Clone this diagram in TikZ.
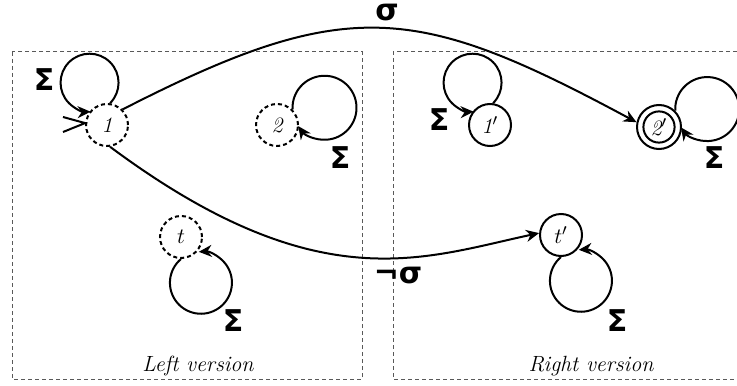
\documentclass[tikz,border=0pt]{standalone}
\usepackage{fontspec}
\newfontfamily\sigfont{DejaVu Sans}
\usetikzlibrary{arrows.meta}
\begin{document}
\begin{tikzpicture}[x=0.5pt,y=0.5pt,
  state/.style={circle,draw,line width=1pt,minimum size=21pt,inner sep=0pt,font=\fontsize{11}{13}\itshape},
  dstate/.style={state,dash pattern=on 2pt off 1.5pt},
  edgeline/.style={line width=1pt,-{Stealth[length=6.5pt,width=6pt]}},
  sig/.style={font=\sigfont\bfseries\fontsize{15}{15}\selectfont,inner sep=0pt},
  box/.style={draw=black!65,line width=0.5pt,dash pattern=on 2pt off 1.5pt},
  boxcaption/.style={font=\fontsize{11}{13}\itshape,inner sep=0pt}
]
\useasboundingbox (0,0) rectangle (737,-385);
% boxes
\draw[box] (12,-52) rectangle (362,-379);
\draw[box] (737,-52) -- (393,-52) -- (393,-379) -- (737,-379);
\node[boxcaption] (capl) at (198,-366) {Left version};
\node[boxcaption] (capr) at (591,-366) {Right version};
% states
\node[dstate] (n1) at (107,-125) {1};
\node[dstate] (n2) at (277,-125) {2};
\node[dstate] (nt) at (181,-237) {$t$};
\node[state] (m1) at (490,-125) {1$'$};
\node[state,minimum size=22pt] (m2) at (659,-127) {2$'$};
\draw[line width=1pt] (m2.center) circle[radius=7.8pt];
\node[state] (mt) at (561,-235) {$t'$};
% initial marker
\coordinate (i1) at (63,-117);
\coordinate (i2) at (63,-132);
\draw[line width=1pt] (i1) -- (n1.175) -- (i2);
% loops
\draw[edgeline] (n1.82) arc[start angle=-45,delta angle=317,radius=14.5pt];
\draw[edgeline] (n2.45) arc[start angle=183,delta angle=-328,radius=16pt];
\draw[edgeline] (nt.-90) arc[start angle=130,delta angle=324,radius=15.5pt];
\draw[edgeline] (m1.82) arc[start angle=-45,delta angle=317,radius=14.5pt];
\draw[edgeline] (m2.45) arc[start angle=183,delta angle=-328,radius=16pt];
\draw[edgeline] (mt.-90) arc[start angle=130,delta angle=324,radius=15.5pt];
\node[sig] (s1) at (44,-80) {Σ};
\node[sig] (s2) at (340,-158) {Σ};
\node[sig] (s3) at (233,-321) {Σ};
\node[sig] (s4) at (439,-120) {Σ};
\node[sig] (s5) at (714,-158) {Σ};
\node[sig] (s6) at (617,-321) {Σ};
% long edges
\draw[edgeline] (n1.45) .. controls (347,5.5) and (416,-3.6) .. (m2.168);
\node[sig] (lsig) at (387,-13) {σ};
\draw[edgeline] (n1.-82) .. controls (318,-301.5) and (423,-257.9) .. (mt.175);
\node[sig] (lnsig) at (398,-276) {¬σ};
\end{tikzpicture}
\end{document}
